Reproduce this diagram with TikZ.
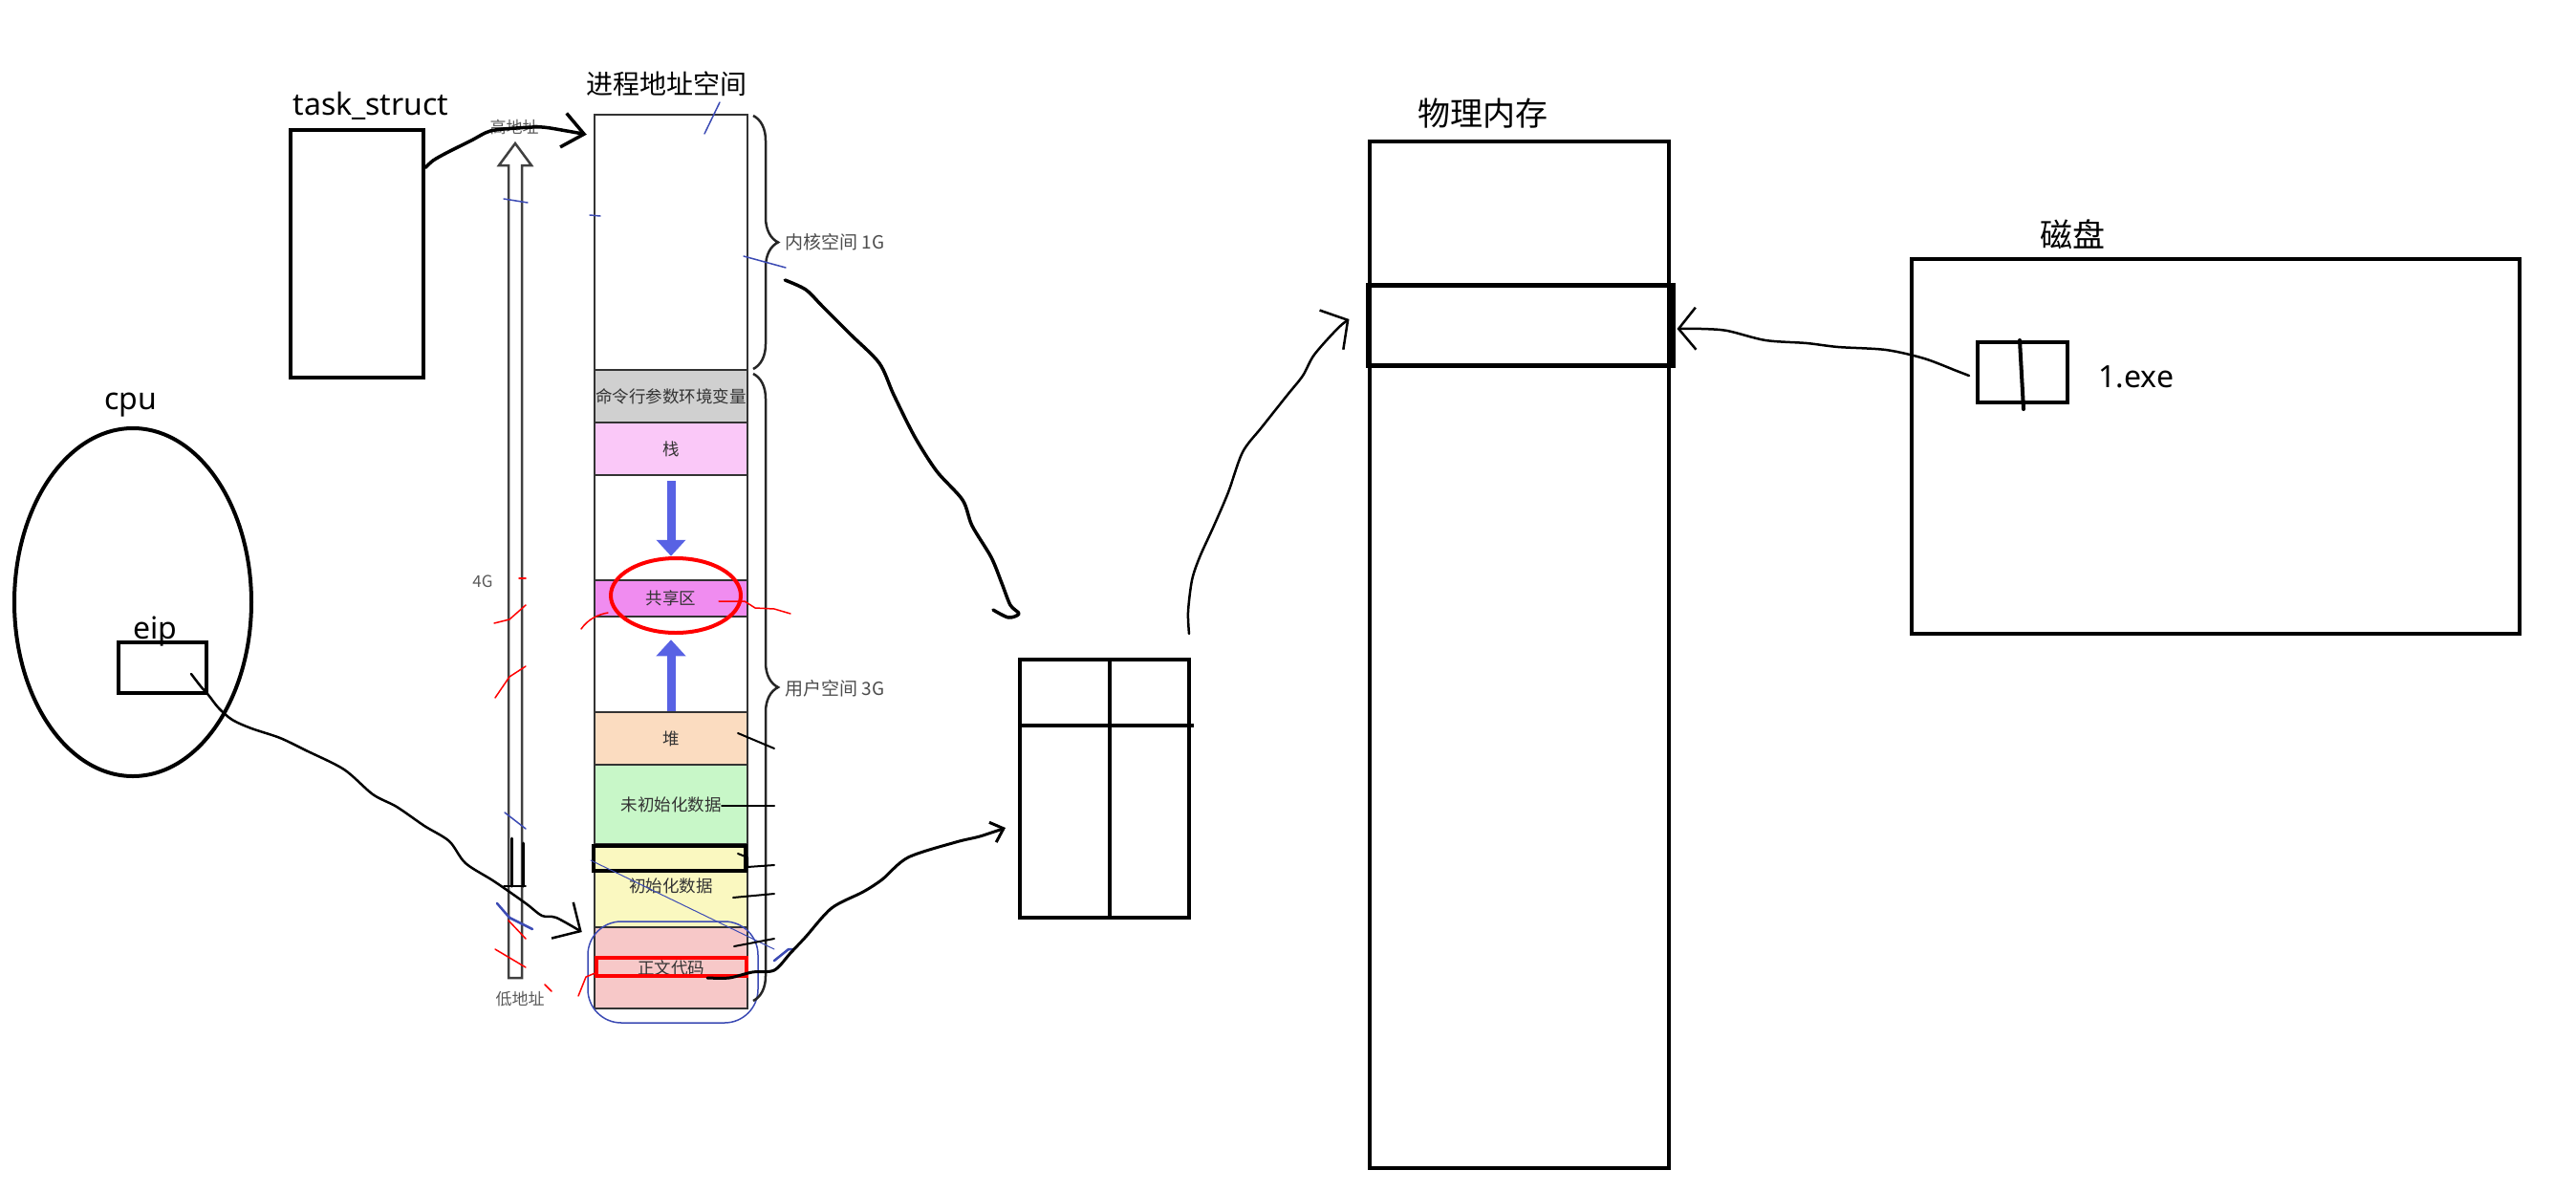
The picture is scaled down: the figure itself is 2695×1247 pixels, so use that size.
\documentclass[tikz,border=0pt]{standalone}
\usepackage{fontspec}
\setmainfont{Noto Sans}
\newfontfamily\cjk{Noto Sans CJK SC}
\usetikzlibrary{arrows.meta,shapes.geometric,decorations.pathreplacing,positioning}

\definecolor{argsgray}{RGB}{208,208,208}
\definecolor{stackpink}{RGB}{250,200,248}
\definecolor{sharepink}{RGB}{240,140,240}
\definecolor{heapbeige}{RGB}{251,220,192}
\definecolor{bssgreen}{RGB}{200,247,200}
\definecolor{datayellow}{RGB}{250,248,192}
\definecolor{textpink}{RGB}{247,200,200}
\definecolor{arrowblue}{RGB}{88,98,228}
\definecolor{inkblue}{RGB}{60,75,180}
\definecolor{segtext}{RGB}{51,51,51}

\tikzset{
  box/.style={draw, line width=4pt, inner sep=0pt},
  lbl/.style={font=\fontsize{32}{38}\selectfont},
  biglbl/.style={font=\cjk\fontsize{34}{40}\selectfont},
  astitle/.style={font=\cjk\fontsize{28}{32}\selectfont},
  seg/.style={draw=black!80, line width=2.5pt, inner sep=0pt, minimum width=160pt,
    text=segtext, font=\cjk\fontsize{17.5}{20}\selectfont},
  gnote/.style={text=black!65, font=\cjk\fontsize{17}{20}\selectfont},
  bnote/.style={text=black!70, font=\cjk\fontsize{19}{22}\selectfont, anchor=west},
  ink/.style={line width=3pt, line cap=round, line join=round},
  hand/.style={ink, -{Straight Barb[length=20pt, width=40pt]}},
  scrib/.style={line width=1.5pt, line cap=round, line join=round},
  growth/.style={line width=9pt, draw=arrowblue, -{Triangle[width=30pt, length=17pt]}},
  addr/.style={line width=2.5pt, draw=black!75, fill=white, line join=miter},
  brc/.style={decorate, decoration={brace, amplitude=26pt}, line width=2.5pt, draw=black!85}
}

\begin{document}
\begin{tikzpicture}[x=1pt, y=-1pt]
    \useasboundingbox (0,0) rectangle (2695,1247);

    % task_struct
    \node[box, minimum width=139pt, minimum height=259pt] (task) at (373.5,265.5) {};
    \node[lbl, anchor=base west] (tasklbl) at (303,120) {task\_struct};

    % cpu 与 eip
    \node[box, ellipse, minimum width=248pt, minimum height=364pt] (cpu) at (139,630) {};
    \node[lbl, anchor=base] (cpulbl) at (137,428) {cpu};
    \node[box, minimum width=92pt, minimum height=53pt] (eip) at (170,698.5) {};
    \node[lbl, anchor=base] (eiplbl) at (162,668) {eip};

    % 地址方向
    \draw[addr] (532,1023) -- (532,173) -- (522,173) -- (539,150) -- (556,173) -- (546,173) -- (546,1023) -- cycle;
    \node[gnote] (high) at (538,133) {高地址};
    \node[gnote] (low) at (544,1045) {低地址};
    \node[gnote] (size) at (505,608) {4G};

    % 进程地址空间
    \node[astitle] (aslbl) at (697,88) {进程地址空间};
    \node[seg, minimum height=267pt] (kernel) at (702,253.5) {};
    \node[seg, fill=argsgray, minimum height=55pt] (args) at (702,414.5) {命令行参数环境变量};
    \node[seg, fill=stackpink, minimum height=55pt] (stack) at (702,469.5) {栈};
    \node[seg, minimum height=110pt] (gapup) at (702,552) {};
    \node[seg, fill=sharepink, minimum height=38pt] (share) at (702,626) {共享区};
    \node[seg, minimum height=100pt] (gapdown) at (702,695) {};
    \node[seg, fill=heapbeige, minimum height=55pt] (heap) at (702,772.5) {堆};
    \node[seg, fill=bssgreen, minimum height=83pt] (bss) at (702,841.5) {未初始化数据};
    \node[seg, fill=datayellow, minimum height=87pt] (data) at (702,926.5) {初始化数据};
    \node[seg, fill=textpink, minimum height=85pt] (textseg) at (702,1012.5) {正文代码};

    % 栈和堆的增长
    \draw[growth] ([yshift=-5pt]stack.south) -- ([yshift=24pt]share.north);
    \draw[growth] (heap.north) -- ([yshift=-23pt]share.south);

    % 标记
    \node[box, minimum width=159pt, minimum height=26pt] (initmark) at (700.5,898) {};
    \node[box, draw=red, minimum width=157pt, minimum height=19pt] (textmark) at (702.5,1011.5) {};
    \node[draw=red, line width=4pt, ellipse, minimum width=136pt, minimum height=78pt] (shareoval) at (707,623) {};
    \draw[inkblue, line width=1.5pt, rounded corners=35pt] (615,964) rectangle (793,1070);

    % 内核空间 / 用户空间
    \draw[brc] (788,121) -- (788,386);
    \draw[brc] (788,391) -- (788,1047);
    \node[bnote] (kernlbl) at (818,253) {内核空间 1G};
    \node[bnote] (userlbl) at (818,720) {用户空间 3G};

    % 红色笔迹
    \draw[scrib, red] (752,629) -- (779,629) -- (790,636) -- (810,637) -- (827,642);
    \draw[scrib, red] (608,658) .. controls (615,648) and (625,643) .. (636,641);
    \draw[scrib, red] (543,605) -- (550,605);
    \draw[scrib, red] (517,652) -- (533,648) -- (550,633);
    \draw[scrib, red] (518,730) -- (533,708) -- (550,697);
    \draw[scrib, red] (532,963) -- (550,982);
    \draw[scrib, red] (518,993) -- (550,1012);
    \draw[scrib, red] (570,1030) -- (577,1037);
    \draw[scrib, red] (605,1042) -- (613,1022) -- (625,1017);

    % 蓝色笔迹
    \draw[scrib, inkblue] (527,208) -- (552,212);
    \draw[scrib, inkblue] (617,225) -- (628,226);
    \draw[scrib, inkblue] (737,140) -- (753,107);
    \draw[scrib, inkblue] (778,268) -- (822,280);
    \draw[scrib, inkblue] (528,850) -- (550,867);
    \draw[scrib, inkblue, line width=2.5pt] (520,945) -- (533,960) -- (557,972);
    \draw[scrib, inkblue, line width=1pt] (618,900) -- (810,993);
    \draw[scrib, inkblue, line width=2.5pt] (810,1005) -- (825,993) -- (830,993);

    % 黑色短线
    \draw[scrib, line width=2pt] (772,767) -- (810,783);
    \draw[scrib, line width=2pt] (755,843) -- (810,843);
    \draw[scrib, line width=2pt] (772,893) -- (782,897) -- (782,907) -- (810,905);
    \draw[scrib, line width=2pt] (767,939) -- (810,935);
    \draw[scrib, line width=2pt] (768,990) -- (810,982);
    \draw[scrib, line width=3pt] (535,877) -- (535,927);
    \draw[scrib, line width=3pt] (547,882) -- (547,927);
    \draw[scrib] (527,927) -- (550,927);

    % 页表
    \node[box, minimum width=177pt, minimum height=270pt] (pt) at (1155.5,825) {};
    \draw[line width=4pt] ([yshift=-71pt]pt.north west) -- ([yshift=-71pt, xshift=3pt]pt.north east);
    \draw[line width=4pt] ([xshift=5.5pt]pt.north) -- ([xshift=5.5pt]pt.south);

    % 物理内存
    \node[box, minimum width=313pt, minimum height=1074pt] (mem) at (1589.5,685) {};
    \node[box, line width=5pt, minimum width=319pt, minimum height=84pt] (frame) at (1590.5,340) {};
    \node[biglbl] (memlbl) at (1551,119) {物理内存};

    % 磁盘
    \node[box, minimum width=636pt, minimum height=392pt] (disk) at (2318,467) {};
    \node[biglbl] (disklbl) at (2168,245) {磁盘};
    \node[box, minimum width=94pt, minimum height=63pt] (file) at (2116,389.5) {};
    \draw[line width=4pt, line cap=round] ([xshift=-3pt]file.north) -- ([xshift=1pt, yshift=-5pt]file.south);
    \node[lbl, anchor=base west] (filelbl) at (2192,405) {1.exe};

    % 连线端点
    \coordinate (task-out) at ([yshift=90pt]task.east);
    \coordinate (as-in) at ([shift={(-7pt,-22pt)}]kernel.north west);
    \coordinate (eip-out) at ([shift={(30pt,-6.5pt)}]eip.center);
    \coordinate (text-in) at ([shift={(-12pt,37.5pt)}]textseg.west);
    \coordinate (text-out) at ([shift={(38pt,-10.5pt)}]textseg.center);
    \coordinate (pt-in) at ([shift={(-13pt,-41pt)}]pt.west);
    \coordinate (kern-out) at ([shift={(38pt,-39.5pt)}]kernel.east);
    \coordinate (pt-top) at ([shift={(-26pt,50pt)}]pt.north west);
    \coordinate (pt-out) at ([shift={(-2pt,25pt)}]pt.north east);
    \coordinate (frame-in) at ([shift={(-17pt,6pt)}]frame.west);
    \coordinate (file-out) at ([shift={(-7pt,-3.5pt)}]file.west);
    \coordinate (frame-out) at ([shift={(2pt,-4pt)}]frame.east);

    % 连线
    \draw[hand, line width=3.5pt, -{Straight Barb[length=22pt, width=36pt]}]
      plot[smooth] coordinates {(task-out) (453,168) (467,160) (493,147) (513,137) (540,134) (567,133) (593,137) (as-in)};
    \draw[hand, line width=2.5pt, -{Straight Barb[length=22pt, width=44pt]}]
      plot[smooth] coordinates {(eip-out) (210,718) (218,727) (229,741) (243,753) (263,762) (293,772) (320,785) (360,805) (390,831) (415,844) (444,864) (470,880) (487,903) (517,922) (550,945) (567,958) (582,960) (text-in)};
    \draw[hand, -{Straight Barb[length=12pt, width=22pt]}]
      plot[smooth] coordinates {(text-out) (763,1023) (787,1017) (810,1015) (827,997) (843,980) (870,950) (903,933) (923,920) (950,897) (1000,881) (1025,875) (pt-in)};
    \draw[ink, line width=3.5pt]
      plot[smooth] coordinates {(kern-out) (843,303) (860,320) (890,350) (920,380) (935,413) (957,457) (980,493) (1007,523) (1017,550) (1037,583) (1048,610) (1057,633) (1066,642) (1055,646) (pt-top)};
    \draw[hand, line width=2.5pt, -{Straight Barb[length=20pt, width=48pt]}]
      plot[smooth] coordinates {(pt-out) (1243,640) (1247,607) (1255,583) (1270,550) (1285,515) (1300,473) (1320,447) (1347,413) (1363,393) (1375,371) (1400,343) (frame-in)};
    \draw[hand, line width=2.5pt, -{Straight Barb[length=18pt, width=44pt]}]
      plot[smooth] coordinates {(file-out) (2047,388) (2013,375) (1973,366) (1923,363) (1890,359) (1847,356) (1807,346) (1780,344) (frame-out)};
\end{tikzpicture}
\end{document}
